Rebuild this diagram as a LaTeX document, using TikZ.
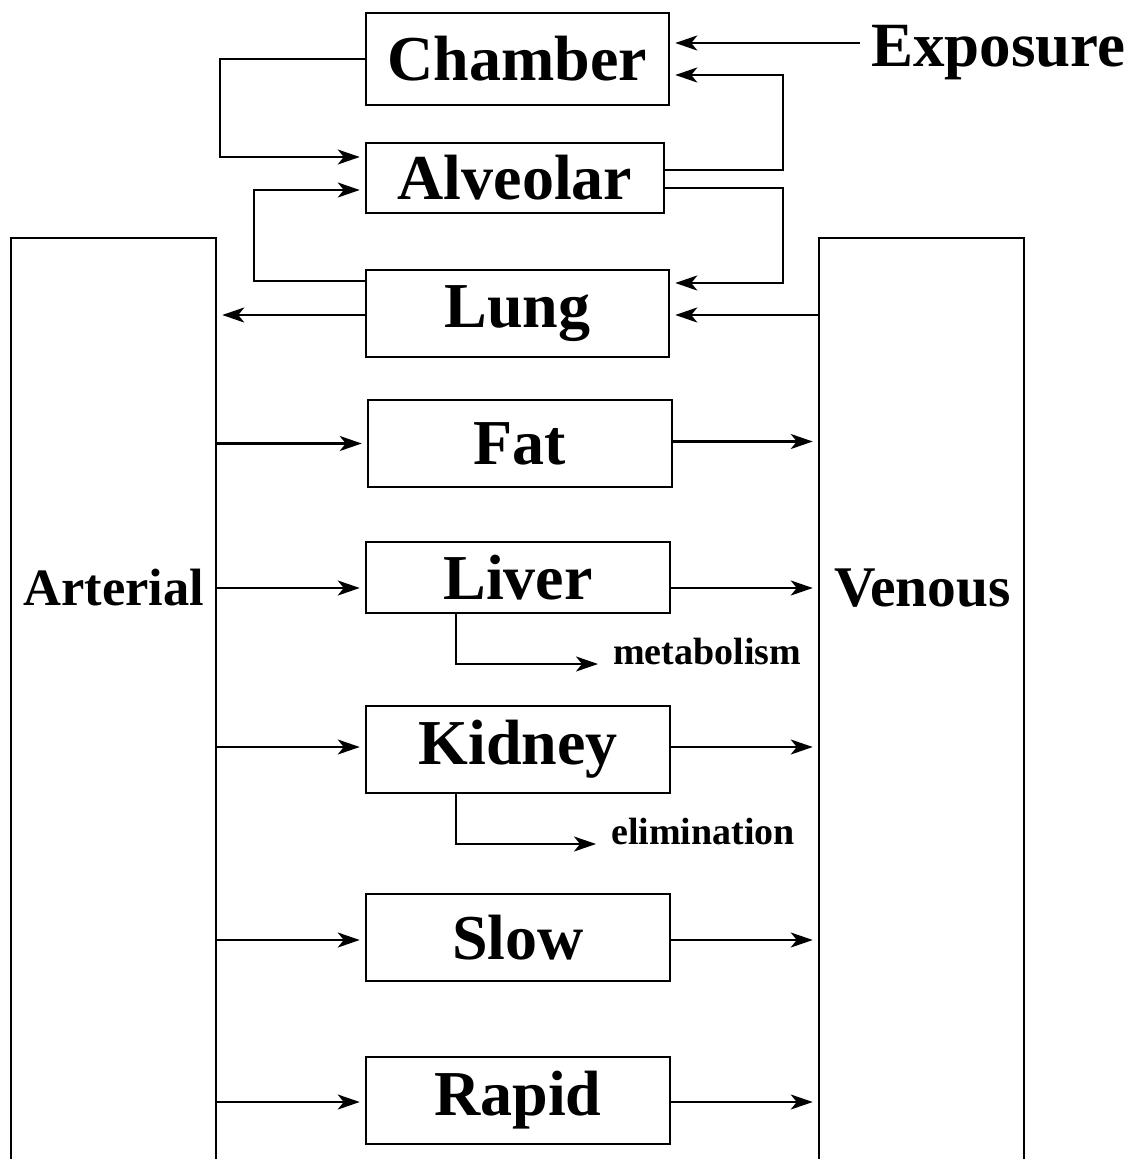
\documentclass[tikz,border=0pt]{standalone}
\usepackage{fontspec}
\setmainfont{Liberation Serif}
\usetikzlibrary{arrows.meta,calc}
\begin{document}
\begin{tikzpicture}[x=1pt,y=-1pt,
  box/.style={draw,line width=2.5pt,inner sep=0pt,font=\fontsize{64}{70}\selectfont\bfseries},
  col/.style={draw,line width=2.5pt,inner sep=0pt,minimum width=205pt,minimum height=930pt},
  lbl/.style={inner sep=0pt},
  small/.style={inner sep=0pt,font=\fontsize{38}{42}\selectfont\bfseries},
  arr/.style={line width=2.5pt,-{Stealth[length=22pt,width=15pt,inset=6pt]},shorten >=5pt},
  ln/.style={line width=2.5pt}]
\useasboundingbox (0,0) rectangle (1135,1159);
% compartments
\node[box,minimum width=303pt,minimum height=92pt] (chamber) at (517.5,59) {Chamber};
\node[box,minimum width=298pt,minimum height=70pt] (alv) at (515,178) {Alveolar};
\node[box,minimum width=303pt,minimum height=87pt] (lung) at (517.5,313.5) {Lung};
\node[box,minimum width=304pt,minimum height=87pt] (fat) at (520,443.5) {Fat};
\node[box,minimum width=304pt,minimum height=71pt] (liver) at (518,577.5) {Liver};
\node[box,minimum width=304pt,minimum height=87pt] (kidney) at (518,749.5) {Kidney};
\node[box,minimum width=304pt,minimum height=87pt] (slow) at (518,937.5) {Slow};
\node[box,minimum width=304pt,minimum height=87pt] (rapid) at (518,1100.5) {Rapid};
% blood columns
\node[col] (art) at (113.5,703) {};
\node[col] (ven) at (921.5,703) {};
\node[lbl,font=\fontsize{52.5}{60}\selectfont\bfseries] (artlbl) at (114,588) {Arterial};
\node[lbl,font=\fontsize{57.5}{62}\selectfont\bfseries] (venlbl) at (922.5,588) {Venous};
% exposure
\node[box,draw=none,anchor=base west,font=\fontsize{63}{70}\selectfont\bfseries] (exp) at (870,66) {Exposure};
\coordinate (ex) at ($(exp.base west)+(-10,-23)$);
\draw[arr] (ex) -- (ex -| chamber.east);
% chamber -> alveolar
\coordinate (ca) at ($(alv.west)+(0,-21)$);
\draw[arr] (chamber.west) -- (220,59) |- (ca);
% alveolar -> chamber
\coordinate (ac1) at ($(alv.east)+(0,-8)$);
\coordinate (ac2) at ($(chamber.east)+(0,16)$);
\draw[arr] (ac1) -- (783,170) |- (ac2);
% alveolar -> lung
\coordinate (al1) at ($(alv.east)+(0,10)$);
\coordinate (al2) at ($(lung.east)+(0,-30.5)$);
\draw[arr] (al1) -- (783,188) |- (al2);
% lung -> alveolar
\coordinate (la1) at ($(lung.west)+(0,-32.5)$);
\coordinate (la2) at ($(alv.west)+(0,12)$);
\draw[arr] (la1) -- (254,281) |- (la2);
% lung <-> blood
\coordinate (lw) at ($(lung.west)+(0,1.5)$);
\coordinate (le) at ($(lung.east)+(0,1.5)$);
\draw[arr] (lw) -- (lw -| art.east);
\draw[arr] (le -| ven.west) -- (le);
% tissues
\draw[arr] (art.east |- fat.west) -- (fat.west);
\draw[arr] ($(fat.east)+(0,-2)$) -- ($(fat.east -| ven.west)+(0,-2)$);
\coordinate (lv) at ($(liver.west)+(0,10.5)$);
\coordinate (lve) at ($(liver.east)+(0,10.5)$);
\draw[arr] (art.east |- lv) -- (lv);
\draw[arr] (lve) -- (lve -| ven.west);
\coordinate (kw) at ($(kidney.west)+(0,-2.5)$);
\coordinate (ke) at ($(kidney.east)+(0,-2.5)$);
\draw[arr] (art.east |- kw) -- (kw);
\draw[arr] (ke) -- (ke -| ven.west);
\coordinate (sw) at ($(slow.west)+(0,2.5)$);
\coordinate (se) at ($(slow.east)+(0,2.5)$);
\draw[arr] (art.east |- sw) -- (sw);
\draw[arr] (se) -- (se -| ven.west);
\coordinate (rw) at ($(rapid.west)+(0,1.5)$);
\coordinate (re) at ($(rapid.east)+(0,1.5)$);
\draw[arr] (art.east |- rw) -- (rw);
\draw[arr] (re) -- (re -| ven.west);
% metabolism / elimination
\node[small,anchor=base west] (met) at (613,664) {metabolism};
\node[small,anchor=base west] (elim) at (611,844) {elimination};
\draw[arr] ($(liver.south)+(-62,0)$) |- ($(met.base west)+(-10,0)$);
\draw[arr] ($(kidney.south)+(-62,0)$) |- ($(elim.base west)+(-10,0)$);
\end{tikzpicture}
\end{document}
